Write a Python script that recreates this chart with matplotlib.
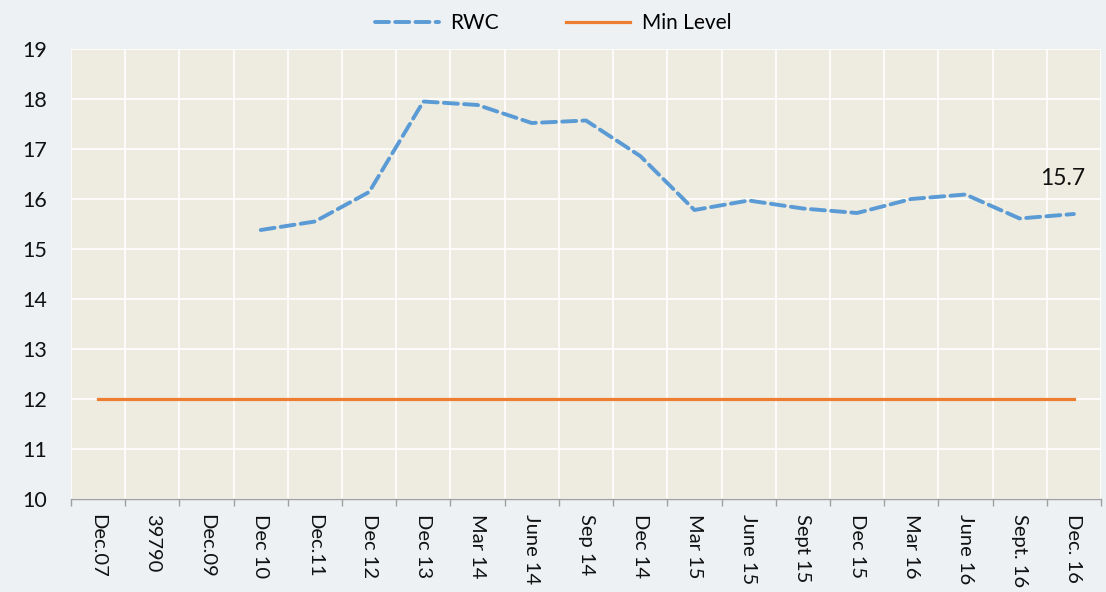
import matplotlib
matplotlib.use("Agg")
import matplotlib.pyplot as plt
import numpy as np

categories = ["Dec.07", "39790", "Dec.09", "Dec 10", "Dec.11", "Dec 12", "Dec 13",
              "Mar 14", "June 14", "Sep 14", "Dec 14", "Mar 15", "June 15", "Sept 15",
              "Dec 15", "Mar 16", "June 16", "Sept. 16", "Dec. 16"]
rwc = [np.nan, np.nan, np.nan, 15.38, 15.55, 16.14, 17.95, 17.88, 17.52, 17.57,
       16.86, 15.78, 15.97, 15.81, 15.72, 16.0, 16.09, 15.61, 15.7]
min_level = [12] * 19
last_label = "15.7"

plt.rcParams['font.family'] = ['Lato', 'DejaVu Sans']

fig = plt.figure(figsize=(11.06, 5.92), dpi=100, facecolor='#EDF1F4')
ax = fig.add_axes([71/1106, 93/592, 1030/1106, 450/592])
ax.set_facecolor('#EEEBE0')

x = np.arange(len(categories))
ax.plot(x, rwc, color='#5B9BD5', lw=2.8, dashes=(3.6, 1.6), label='RWC',
        solid_capstyle='round', dash_capstyle='round')
ax.plot(x, min_level, color='#ED7D31', lw=2.3, label='Min Level')

ax.annotate(last_label, (x[-1], rwc[-1]), xytext=(-8, 18), textcoords='offset points',
            ha='center', va='bottom', fontsize=16.5, color='#111111')

ax.set_xlim(-0.5, len(categories) - 0.5)
ax.set_ylim(10, 19)
ax.set_yticks(range(10, 20))
ax.set_xticks(x)
ax.set_xticklabels(categories, rotation=270, fontsize=14.5, va='top', ha='center',
                   color='#111111')
ax.set_xticks(np.arange(-0.5, len(categories), 1), minor=True)
ax.tick_params(axis='x', which='major', length=0, pad=11)
ax.tick_params(axis='x', which='minor', length=5, color='#A0A0A0', width=1)
ax.tick_params(axis='y', length=0, pad=17, labelsize=15.5, labelcolor='#111111')
ax.grid(True, which='minor', axis='x', color='white', lw=1.2)
ax.grid(True, which='major', axis='y', color='white', lw=1.2)
ax.set_axisbelow(True)
for s in ['top', 'right', 'left']:
    ax.spines[s].set_visible(False)
ax.spines['bottom'].set_color('#A0A0A0')
ax.spines['bottom'].set_linewidth(1)

leg = fig.legend(loc='upper center', bbox_to_anchor=(0.5, 1.01), ncol=2, frameon=False,
                 fontsize=15, handlelength=3.1, columnspacing=3.2, handletextpad=0.55)
fig.savefig('out.png', dpi=100, facecolor=fig.get_facecolor())
